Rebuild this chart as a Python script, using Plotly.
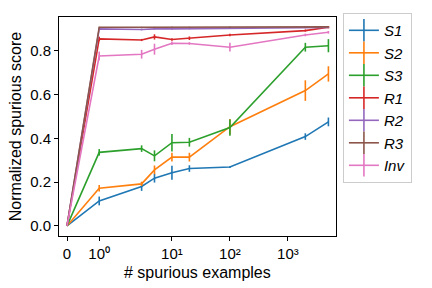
import numpy as np
import plotly.graph_objects as go

# ---- data ----
n_examples = [0, 1, 3, 5, 10, 20, 100, 2000, 5000]

S1 = [0.0, 0.114, 0.180, 0.218, 0.243, 0.262, 0.269, 0.408, 0.475]
S1_err = [0.0, 0.02, 0.02, 0.02, 0.032, 0.015, 0.004, 0.015, 0.02]
S2 = [0.0, 0.172, 0.192, 0.256, 0.314, 0.314, 0.453, 0.618, 0.694]
S2_err = [0.0, 0.015, 0.01, 0.02, 0.02, 0.02, 0.035, 0.047, 0.035]
S3 = [0.0, 0.336, 0.353, 0.320, 0.380, 0.382, 0.449, 0.816, 0.823]
S3_err = [0.0, 0.015, 0.015, 0.025, 0.04, 0.02, 0.037, 0.02, 0.03]
R1 = [0.0, 0.854, 0.849, 0.863, 0.851, 0.857, 0.872, 0.892, 0.907]
R1_err = [0.0, 0.01, 0.005, 0.012, 0.006, 0.008, 0.006, 0.005, 0.005]
R2 = [0.0, 0.900, 0.897, 0.900, 0.900, 0.901, 0.903, 0.905, 0.906]
R2_err = [0.0, 0.003, 0.004, 0.003, 0.003, 0.003, 0.002, 0.002, 0.002]
R3 = [0.0, 0.907, 0.907, 0.907, 0.907, 0.907, 0.907, 0.908, 0.909]
R3_err = [0.0, 0.002, 0.002, 0.002, 0.002, 0.002, 0.002, 0.002, 0.002]
Inv = [0.0, 0.776, 0.784, 0.807, 0.834, 0.833, 0.816, 0.872, 0.884]
Inv_err = [0.0, 0.02, 0.02, 0.025, 0.008, 0.006, 0.02, 0.006, 0.006]

series_names = ["S1", "S2", "S3", "R1", "R2", "R3", "Inv"]
series_vals = [S1, S2, S3, R1, R2, R3, Inv]
series_errs = [S1_err, S2_err, S3_err, R1_err, R2_err, R3_err, Inv_err]
colors = ["#1f77b4", "#ff7f0e", "#2ca02c", "#d62728", "#9467bd", "#8c564b", "#e377c2"]

x_tick_values = [0, 1, 10, 100, 1000]
x_tick_labels = ["0", "10⁰", "10¹", "10²", "10³"]
y_tick_values = [0.0, 0.2, 0.4, 0.6, 0.8]
x_title = "# spurious examples"
y_title = "Normalized spurious score"


# symmetric-log axis transform (linthresh=2, linscale=1, base 10)
def symlog(v, linthresh=2.0, linscale=1.0):
    v = np.asarray(v, dtype=float)
    adj = linscale / (1 - 1 / 10)
    out = np.where(np.abs(v) <= linthresh, v * adj,
                   np.sign(v) * linthresh * (adj + np.log10(np.maximum(np.abs(v), 1e-12) / linthresh)))
    return out


xs = symlog(n_examples)

fig = go.Figure()
for name, vals, errs, c in zip(series_names, series_vals, series_errs, colors):
    fig.add_trace(go.Scatter(
        x=xs, y=vals, mode="lines", name=name, showlegend=False,
        line=dict(color=c, width=1.6),
        error_y=dict(type="data", array=errs, visible=True, color=c, thickness=1.6, width=0),
    ))
for name, c in zip(series_names, colors):
    fig.add_trace(go.Scatter(
        x=[None], y=[None], mode="lines+markers", name=name,
        line=dict(color=c, width=1.6),
        marker=dict(symbol="line-ns-open", size=16, color=c, line=dict(color=c, width=1.6)),
    ))

axis_common = dict(
    showline=True, linecolor="black", linewidth=1, mirror=True,
    ticks="outside", ticklen=4, tickcolor="black", showgrid=False, zeroline=False,
    tickfont=dict(size=15, color="black"), automargin=False,
)

fig.update_layout(
    width=432, height=288,
    margin=dict(l=59, r=96, t=17, b=52, autoexpand=False),
    paper_bgcolor="white", plot_bgcolor="white",
    font=dict(family="Liberation Sans, Arial, sans-serif", size=15, color="black"),
    xaxis=dict(
        range=[float(symlog(0)) - 0.276, 9.28],
        tickvals=list(symlog(x_tick_values)), ticktext=x_tick_labels,
        **axis_common,
    ),
    yaxis=dict(
        range=[-0.046, 0.954],
        tickvals=y_tick_values, tickformat=".1f",
        title=dict(text=y_title, font=dict(size=16), standoff=4),
        **axis_common,
    ),
    legend=dict(
        x=1.025, y=1.018, xanchor="left", yanchor="top",
        bordercolor="#cccccc", borderwidth=1, bgcolor="white",
        font=dict(size=15, style="italic"),
        itemwidth=30, tracegroupgap=0, maxheight=1.0,
    ),
    annotations=[dict(
        text=x_title, xref="paper", yref="paper", x=0.5, y=-0.118,
        xanchor="center", yanchor="top", showarrow=False, font=dict(size=16),
    )],
)

fig.write_html("out.html", config={"displayModeBar": False},
               post_script="document.body.style.margin='0';")
